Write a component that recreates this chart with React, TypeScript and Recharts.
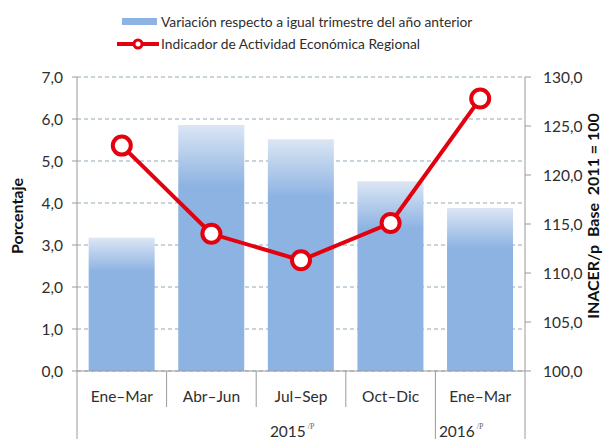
import {
  Bar,
  CartesianGrid,
  ComposedChart,
  Line,
  XAxis,
  YAxis,
} from 'recharts';

const quarters = ['Ene–Mar', 'Abr–Jun', 'Jul–Sep', 'Oct–Dic', 'Ene–Mar'];
const years = ['2015', '2015', '2015', '2015', '2016'];
const variacion = [3.17, 5.86, 5.52, 4.52, 3.88];
const inacer = [123.0, 114.0, 111.3, 115.1, 127.8];
const leftTicks = [0, 1, 2, 3, 4, 5, 6, 7];
const rightTicks = [100, 105, 110, 115, 120, 125, 130];

const chartData = quarters.map((q, i) => ({
  quarter: q,
  year: years[i],
  variacion: variacion[i],
  inacer: inacer[i],
}));

const WIDTH = 605;
const HEIGHT = 439;
const LEFT_W = 77;
const RIGHT_W = 80;
const TOP = 77;
const X_H = 68;
const BAND = (WIDTH - LEFT_W - RIGHT_W) / quarters.length;
const FONT = 'Lato, "Liberation Sans", sans-serif';
const RED = '#e3000f';
const AXIS = '#9a9a9a';
const TEXT = '#2e2e2e';
// Excel left the year labels slightly off the group centres
const yearShift: { [key: string]: number } = { '2015': 36, '2016': -19 };

const fmt = (v: number) => v.toFixed(1).replace('.', ',');

const CategoryTick = ({ x, y, payload, index }: any) => {
  const i = index ?? payload.index;
  const left = x - BAND / 2;
  const groupStart = i === 0 || years[i] !== years[i - 1];
  const isLast = i === quarters.length - 1;
  let groupSize = 0;
  if (groupStart) {
    for (let j = i; j < years.length && years[j] === years[i]; j++) groupSize++;
  }
  const groupCenter = left + (groupSize * BAND) / 2 + (yearShift[years[i]] || 0);
  return (
    <g>
      <line x1={left} x2={left} y1={y} y2={groupStart ? y + X_H : y + 36} stroke={AXIS} />
      {isLast && (
        <line x1={left + BAND} x2={left + BAND} y1={y} y2={y + X_H} stroke={AXIS} />
      )}
      <text x={x} y={y + 31} textAnchor='middle' fontSize={15.5} fill={TEXT} fontFamily={FONT}>
        {payload.value}
      </text>
      {groupStart && (
        <text x={groupCenter} y={y + 66} textAnchor='middle' fontSize={15.5} fill={TEXT} fontFamily={FONT}>
          {years[i]}
          <tspan dy={-8} fontSize={8} fontFamily='"Liberation Serif", serif' fill='#666'>
            {' /P'}
          </tspan>
        </text>
      )}
    </g>
  );
};

const AxisTitle = ({ viewBox, text, side }: any) => {
  const cx = side === 'left' ? viewBox.x + 16 : viewBox.x + viewBox.width - 13;
  const cy = viewBox.y + viewBox.height / 2 - 8;
  return (
    <text
      x={cx}
      y={cy}
      transform={`rotate(-90, ${cx}, ${cy})`}
      textAnchor='middle'
      dominantBaseline='central'
      fontSize={16}
      fontWeight={700}
      fill='#111'
      fontFamily={FONT}
      style={{ whiteSpace: 'pre' }}
    >
      {text}
    </text>
  );
};

function Legend() {
  return (
    <div style={{ position: 'absolute', top: 0, left: 0, fontFamily: FONT, fontSize: 13.8, color: TEXT }}>
      <div style={{ position: 'absolute', top: 13, left: 117, display: 'flex', alignItems: 'center', whiteSpace: 'nowrap' }}>
        <span style={{ display: 'inline-block', width: 35, height: 7, background: '#8db3e2', marginLeft: 5, marginRight: 4 }} />
        Variación respecto a igual trimestre del año anterior
      </div>
      <div style={{ position: 'absolute', top: 35, left: 117, display: 'flex', alignItems: 'center', whiteSpace: 'nowrap' }}>
        <svg width={44} height={14}>
          <line x1={0} x2={42} y1={7} y2={7} stroke={RED} strokeWidth={4} />
          <circle cx={21} cy={7} r={4} fill='#fff' stroke={RED} strokeWidth={3} />
        </svg>
        Indicador de Actividad Económica Regional
      </div>
    </div>
  );
}

export default function App() {
  return (
    <div style={{ position: 'absolute', left: 0, top: 0, width: WIDTH, height: HEIGHT, background: '#fff' }}>
      <Legend />
      <ComposedChart
        width={WIDTH}
        height={HEIGHT}
        data={chartData}
        margin={{ top: TOP, right: 0, bottom: 0, left: 0 }}
        barCategoryGap='13%'
      >
        <defs>
          <linearGradient id='barGrad' x1='0' y1='0' x2='0' y2='1'>
            <stop offset='0%' stopColor='#dce6f4' />
            <stop offset='25%' stopColor='#8db3e2' />
            <stop offset='100%' stopColor='#8db3e2' />
          </linearGradient>
        </defs>
        <CartesianGrid
          yAxisId='left'
          vertical={false}
          stroke='#8fa9b8'
          strokeDasharray='4 3'
        />
        <XAxis
          dataKey='quarter'
          height={X_H}
          axisLine={{ stroke: AXIS }}
          tickLine={false}
          tickSize={0}
          tickMargin={0}
          interval={0}
          tick={<CategoryTick />}
        />
        <YAxis
          yAxisId='left'
          width={LEFT_W}
          domain={[0, 7]}
          ticks={leftTicks}
          tickFormatter={fmt}
          axisLine={{ stroke: AXIS }}
          tickLine={{ stroke: AXIS }}
          tickSize={5}
          tickMargin={9}
          tick={{ fill: TEXT, fontSize: 15.5, fontFamily: FONT }}
          label={<AxisTitle text='Porcentaje' side='left' />}
        />
        <YAxis
          yAxisId='right'
          orientation='right'
          width={RIGHT_W}
          domain={[100, 130]}
          ticks={rightTicks}
          tickFormatter={fmt}
          axisLine={{ stroke: AXIS }}
          tickLine={{ stroke: AXIS }}
          tickSize={6}
          tickMargin={12}
          tick={{ fill: TEXT, fontSize: 15.5, fontFamily: FONT }}
          label={<AxisTitle text='INACER/p  Base  2011 = 100' side='right' />}
        />
        <Bar
          yAxisId='left'
          dataKey='variacion'
          fill='url(#barGrad)'
          isAnimationActive={false}
        />
        <Line
          yAxisId='right'
          dataKey='inacer'
          stroke={RED}
          strokeWidth={4}
          dot={{ r: 9, fill: '#fff', stroke: RED, strokeWidth: 4 }}
          activeDot={false}
          isAnimationActive={false}
        />
      </ComposedChart>
    </div>
  );
}
